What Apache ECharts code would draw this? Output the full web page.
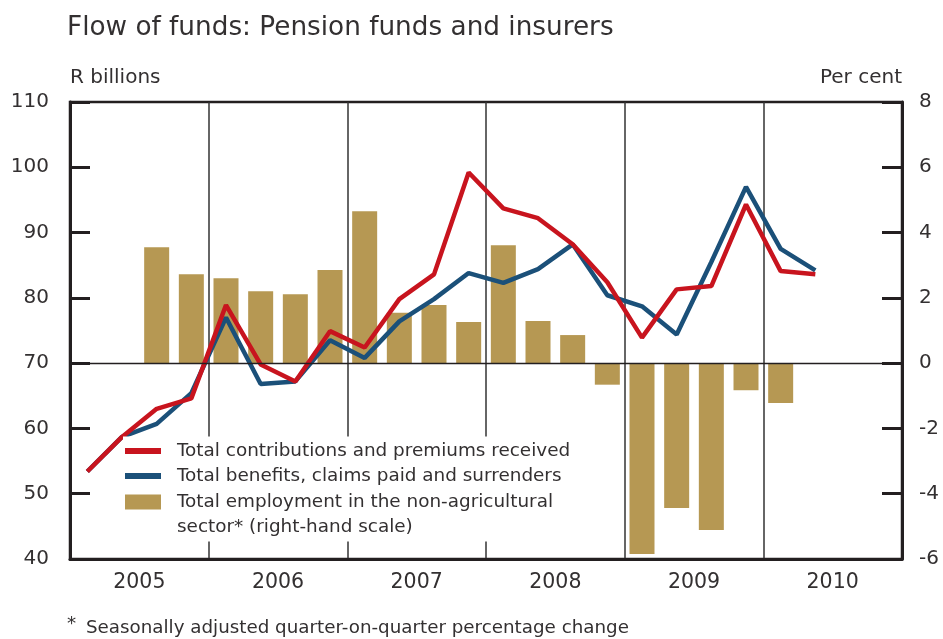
<!DOCTYPE html>
<html><head><meta charset="utf-8">
<script src="https://cdn.jsdelivr.net/npm/echarts@6/dist/echarts.min.js"></script>
<style>html,body{margin:0;padding:0;background:#fff}#c{width:943px;height:639px}</style>
</head><body><div id="c"></div>
<script>
var quarters = ['2005Q1','2005Q2','2005Q3','2005Q4','2006Q1','2006Q2','2006Q3','2006Q4','2007Q1','2007Q2','2007Q3','2007Q4','2008Q1','2008Q2','2008Q3','2008Q4','2009Q1','2009Q2','2009Q3','2009Q4','2010Q1','2010Q2','2010Q3','2010Q4'];
var years = ['2005','2006','2007','2008','2009','2010'];
var contributions = [53.4,58.7,63.0,64.6,78.9,69.8,67.2,74.9,72.4,79.8,83.6,99.2,93.7,92.2,88.2,82.4,73.9,81.3,81.8,94.3,84.1,83.6,null,null];
var benefits = [53.4,58.7,60.7,65.4,77.0,66.8,67.2,73.5,70.8,76.4,79.8,83.8,82.3,84.4,88.2,80.4,78.7,74.4,85.5,97.0,87.5,84.2,null,null];
var employment = [null,null,3.55,2.72,2.6,2.2,2.11,2.85,4.65,1.54,1.78,1.26,3.61,1.29,0.86,-0.66,-5.85,-4.44,-5.11,-0.83,-1.22,null,null,null];
var nameC = 'Total contributions and premiums received';
var nameB = 'Total benefits, claims paid and surrenders';
var nameE = 'Total employment in the non-agricultural\nsector* (right-hand scale)';

var FONT = '"DejaVu Sans", "Liberation Sans", sans-serif';
var TXT = '#333031';
var AX = '#231f20';
var RED = '#c8141e', BLUE = '#1b5079', GOLD = '#b69853';
var chart = echarts.init(document.getElementById('c'), null, {renderer:'canvas'});
chart.setOption({
  animation:false,
  textStyle:{fontFamily:FONT,color:TXT},
  title:{text:'Flow of funds: Pension funds and insurers',left:67,top:15,padding:0,
    textStyle:{fontFamily:FONT,fontSize:26.3,fontWeight:'normal',color:TXT}},
  grid:{left:70,right:41,top:102,bottom:80,show:true,borderColor:AX,borderWidth:2.5,backgroundColor:'transparent'},
  legend:[{
    data:[{name:nameC,icon:'rect'},{name:nameB,icon:'rect'}],orient:'vertical',left:123,top:436.5,padding:[2,2,0,2],itemGap:0,
    itemWidth:36,itemHeight:6,backgroundColor:'#fff',z:5,
    textStyle:{fontFamily:FONT,fontSize:18.4,color:TXT,lineHeight:25,padding:[0,0,0,11]}
  },{
    data:[{name:nameE,icon:'rect'}],orient:'vertical',left:123,top:464.5,padding:[0,2,2,2],itemGap:0,
    itemWidth:36,itemHeight:15,backgroundColor:'#fff',z:4,
    formatter:function(n){return ' \n'+n;},
    textStyle:{fontFamily:FONT,fontSize:18.4,color:TXT,lineHeight:25,padding:[0,0,0,11]}
  }],
  xAxis:[{
    type:'category',data:quarters,show:false,boundaryGap:true
  },{
    type:'category',data:years,position:'bottom',boundaryGap:true,
    axisLine:{show:true,lineStyle:{color:AX,width:3}},
    axisTick:{show:false},
    axisLabel:{fontFamily:FONT,fontSize:20.5,color:TXT,margin:13},
    splitLine:{show:true,lineStyle:{color:'#333',width:1.5}}
  }],
  yAxis:[{
    type:'value',min:40,max:110,interval:10,position:'left',
    name:'R billions',nameLocation:'end',nameGap:24,
    nameTextStyle:{fontFamily:FONT,fontSize:20,color:TXT,align:'left',verticalAlign:'middle'},
    axisLine:{show:true,lineStyle:{color:AX,width:3}},
    axisTick:{show:true,inside:true,length:20,lineStyle:{color:AX,width:3}},
    axisLabel:{fontFamily:FONT,fontSize:20,color:TXT,margin:21},
    splitLine:{show:false}
  },{
    type:'value',min:-6,max:8,interval:2,position:'right',
    name:'Per cent',nameLocation:'end',nameGap:24,
    nameTextStyle:{fontFamily:FONT,fontSize:20,color:TXT,align:'right',verticalAlign:'middle'},
    axisLine:{show:true,lineStyle:{color:AX,width:3}},
    axisTick:{show:true,inside:true,length:20,lineStyle:{color:AX,width:3}},
    axisLabel:{fontFamily:FONT,fontSize:20,color:TXT,margin:17},
    splitLine:{show:false}
  }],
  series:[{
    name:nameE,type:'bar',xAxisIndex:0,yAxisIndex:1,data:employment,barWidth:25,
    itemStyle:{color:GOLD},
    markLine:{silent:true,symbol:'none',label:{show:false},
      lineStyle:{color:AX,width:1.3,type:'solid'},data:[{yAxis:0}]}
  },{
    name:nameB,type:'line',xAxisIndex:0,yAxisIndex:0,data:benefits,symbol:'none',
    lineStyle:{color:BLUE,width:4.5},itemStyle:{color:BLUE}
  },{
    name:nameC,type:'line',xAxisIndex:0,yAxisIndex:0,data:contributions,symbol:'none',
    lineStyle:{color:RED,width:4.5},itemStyle:{color:RED}
  }],
  graphic:[{
    type:'text',left:67,top:615,
    style:{text:'{s|*} Seasonally adjusted quarter-on-quarter percentage change',
      rich:{s:{fontSize:18.3,fontFamily:FONT,fill:TXT,verticalAlign:'top',padding:[0,4,8,0]}},
      font:'18.3px '+FONT,fill:TXT}
  }]
});
</script></body></html>
